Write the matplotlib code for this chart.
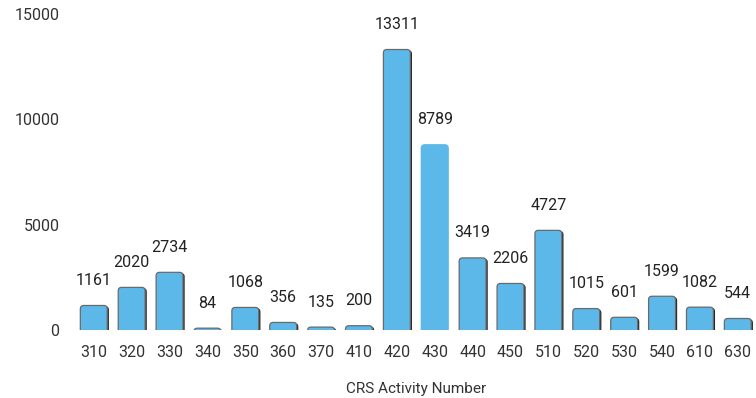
import matplotlib
matplotlib.use("Agg")
from matplotlib import pyplot as plt
from matplotlib.patches import FancyBboxPatch
import matplotlib.patheffects as pe

# chart data
activities = ["310", "320", "330", "340", "350", "360", "370", "410", "420",
              "430", "440", "450", "510", "520", "530", "540", "610", "630"]
counts = [1161, 2020, 2734, 84, 1068, 356, 135, 200, 13311,
          8789, 3419, 2206, 4727, 1015, 601, 1599, 1082, 544]
y_ticks = [0, 5000, 10000, 15000]
hovered = "430"  # this bar shows without the dark outline in the original

plt.rcParams['font.family'] = ['Roboto', 'DejaVu Sans']

fig = plt.figure(figsize=(7.56, 3.98), dpi=100)
ax = fig.add_axes([0.099, 0.171, 0.902, 0.794])

ax.set_xlim(-0.5, len(activities) - 0.5)
ax.set_ylim(0, 15000)

bar_w = 0.71
# rounded top corners: square up the aspect between data x and data y
px_x = 1 / (ax.get_position().width * 756 / len(activities))
px_y = 15000 / (ax.get_position().height * 398)
aspect = px_y / px_x

for i, v in enumerate(counts):
  plain = activities[i] == hovered
  box = FancyBboxPatch((i - bar_w / 2, -400), bar_w, v + 400,
                       boxstyle="round,pad=0,rounding_size=0.09",
                       mutation_aspect=aspect,
                       facecolor="#5bb8e8",
                       edgecolor="#5bb8e8" if plain else "#6a6a6a",
                       linewidth=0.9, clip_on=True, zorder=3)
  if not plain:
    box.set_path_effects([pe.SimplePatchShadow(offset=(1.2, -0.6), shadow_rgbFace="black", alpha=0.85),
                          pe.Normal()])
  ax.add_patch(box)
  ax.annotate(str(v), (i, v), xytext=(0, 18), textcoords="offset points",
              ha="center", va="center", fontsize=11.5, color="#222222")

ax.set_xticks(range(len(activities)))
ax.set_xticklabels(activities)
ax.set_yticks(y_ticks)
ax.tick_params(axis="both", length=0, labelsize=11.5, colors="#333333")
ax.tick_params(axis="x", pad=11)
ax.tick_params(axis="y", pad=11)
for s in ax.spines.values():
  s.set_visible(False)

ax.set_xlabel("CRS Activity Number", fontsize=11, color="#333333", labelpad=16)

fig.savefig("out.png", dpi=100)
